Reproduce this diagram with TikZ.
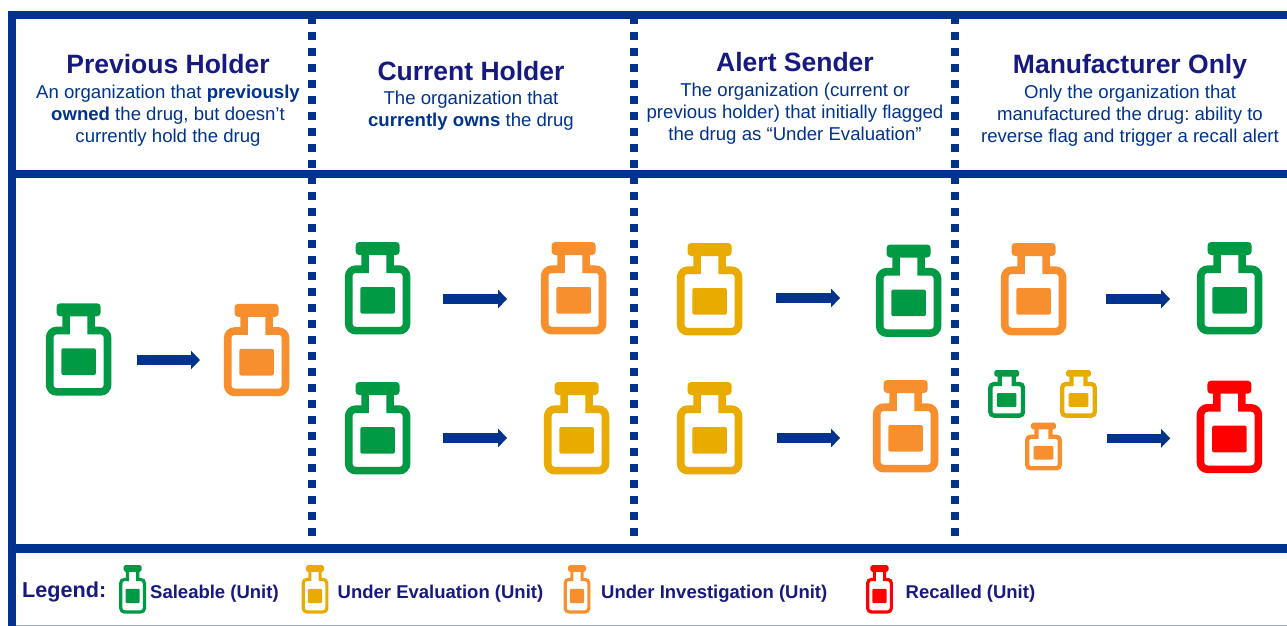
\documentclass[tikz,border=0pt]{standalone}
\usepackage{fontspec}
\setmainfont{Liberation Sans}
\usetikzlibrary{arrows.meta}
\definecolor{frameblue}{RGB}{0,51,141}
\definecolor{titlenavy}{RGB}{22,26,128}
\definecolor{cgreen}{RGB}{0,154,68}
\definecolor{cyellow}{RGB}{234,171,0}
\definecolor{corange}{RGB}{247,143,46}
\definecolor{cred}{RGB}{255,0,0}
\frenchspacing
\tikzset{
  x=1pt,y=-1pt,
  titletext/.style={inner sep=0pt,text=titlenavy,font=\fontsize{26.5}{26.5}\selectfont\bfseries},
  bodytext/.style={inner sep=0pt,text=frameblue,align=center,font=\fontsize{18.6}{22}\selectfont},
  legendtext/.style={inner sep=0pt,anchor=west,text=titlenavy,font=\fontsize{18.5}{20}\selectfont\bfseries},
  bottlebox/.style={inner sep=0pt,outer sep=0pt},
  flowarrow/.style={draw=frameblue,line width=9.3pt,-{Triangle[length=9pt,width=18pt]}},
  framebar/.style={draw=frameblue,line width=8pt},
  dotbar/.style={draw=frameblue,line width=8pt,dash pattern=on 8pt off 8pt},
}
% name, centre x, top y, x scale, y scale, stroke, colour
\newcommand\bottle[7]{%
  \begin{scope}[shift={(#2,#3)},xscale=#4,yscale=#5]
    \fill[#7,rounded corners=3.5pt*#5] (-22,0) rectangle (22,13);
    \draw[#7,line width=#6pt,line join=miter]
      (-12.5,10) -- (-12.5,27.2) [rounded corners=7pt*#5] -- (-28.9,27.2) -- (-28.9,88.6) -- (28.9,88.6) -- (28.9,27.2) [sharp corners] -- (12.5,27.2) -- (12.5,10);
    \fill[#7,rounded corners=2pt*#5] (-17.3,45) rectangle (17.3,71.7);
  \end{scope}
  \node[bottlebox,minimum width={65pt*#4},minimum height={69pt*#5}] (#1) at (#2,{#3+58*#5}) {};
}
% from, to, y, gap at start, gap at end
\newcommand\flow[5]{\draw[flowarrow,shorten <=#4pt,shorten >=#5pt] (#1.east |- 0,#3) -- (#2.west |- 0,#3);}
\begin{document}
\begin{tikzpicture}
\useasboundingbox (0,0) rectangle (1287,626);
\fill[white] (0,0) rectangle (1287,626);
% frame
\draw[draw=frameblue!40,line width=0.8pt] (12,625.3) -- (1287,625.3);
\draw[dotbar] (312,15.6) -- (312,548);
\draw[dotbar] (634,15.6) -- (634,548);
\draw[dotbar] (955,15.6) -- (955,548);
\draw[framebar] (8,15.3) -- (1287,15.3);
\draw[framebar] (8,174.2) -- (1287,174.2);
\draw[framebar,line width=9.3pt] (8,548.7) -- (1287,548.7);
\draw[framebar] (12.2,11.3) -- (12.2,626);
% headers
\node[titletext] (t1) at (168,64) {Previous Holder};
\node[bodytext] (b1) at (168,116) {An organization that \textbf{previously}\\\textbf{owned} the drug, but doesn’t\\currently hold the drug};
\node[titletext] (t2) at (471,71) {Current Holder};
\node[bodytext] (b2) at (471,111) {The organization that\\\textbf{currently owns} the drug};
\node[titletext] (t3) at (795,62) {Alert Sender};
\node[bodytext] (b3) at (795,114) {The organization (current or\\previous holder) that initially flagged\\the drug as “Under Evaluation”};
\node[titletext] (t4) at (1130,67) {Manufacturer Only};
\node[bodytext] (b4) at (1130,116) {Only the organization that\\manufactured the drug: ability to\\reverse flag and trigger a recall alert};
% bottles
\bottle{a1}{78.6}{303.3}{1}{1}{7.6}{cgreen}
\bottle{a2}{256.6}{303.8}{1}{1}{7.6}{corange}
\bottle{c1}{377.6}{242}{1}{1}{7.6}{cgreen}
\bottle{c2}{573.6}{242}{1}{1}{7.6}{corange}
\bottle{d1}{377.6}{382}{1}{1}{7.6}{cgreen}
\bottle{d2}{576.6}{382}{1}{1}{7.6}{cyellow}
\bottle{e1}{709.6}{243}{1}{1}{7.6}{cyellow}
\bottle{e2}{908.6}{244.5}{1}{1}{7.6}{cgreen}
\bottle{f1}{709.6}{382}{1}{1}{7.6}{cyellow}
\bottle{f2}{905.6}{380}{1}{1}{7.6}{corange}
\bottle{g1}{1033.6}{243}{1}{1}{7.6}{corange}
\bottle{g2}{1229.6}{242}{1}{1}{7.6}{cgreen}
\bottle{h1}{1006.7}{370}{.565}{.515}{4.3}{cgreen}
\bottle{h2}{1078.5}{370}{.565}{.515}{4.3}{cyellow}
\bottle{h3}{1043.5}{422.7}{.565}{.515}{4.3}{corange}
\bottle{h4}{1229.4}{380.7}{1}{1}{7.6}{cred}
% connectors
\flow{a1}{a2}{360}{25.9}{24.1}
\flow{c1}{c2}{299}{33}{34}
\flow{d1}{d2}{438}{33}{37}
\flow{e1}{e2}{298}{34}{36}
\flow{f1}{f2}{438}{35}{33}
\flow{g1}{g2}{299}{40}{27}
\flow{h2}{h4}{438.3}{9.7}{26.7}
% legend
\node[titletext,anchor=west,font=\fontsize{21.6}{24}\selectfont\bfseries] (leg) at (22,592) {Legend:};
\bottle{l1}{132.6}{565}{.41}{.53}{3.2}{cgreen}
\node[legendtext] (l1t) at (150,593.5) {Saleable (Unit)};
\bottle{l2}{315}{565}{.41}{.53}{3.2}{cyellow}
\node[legendtext] (l2t) at (337.5,593.5) {Under Evaluation (Unit)};
\bottle{l3}{577}{565}{.41}{.53}{3.2}{corange}
\node[legendtext] (l3t) at (601,593.5) {Under Investigation (Unit)};
\bottle{l4}{879.5}{565}{.41}{.53}{3.2}{cred}
\node[legendtext] (l4t) at (905.5,593.5) {Recalled (Unit)};
\end{tikzpicture}
\end{document}
